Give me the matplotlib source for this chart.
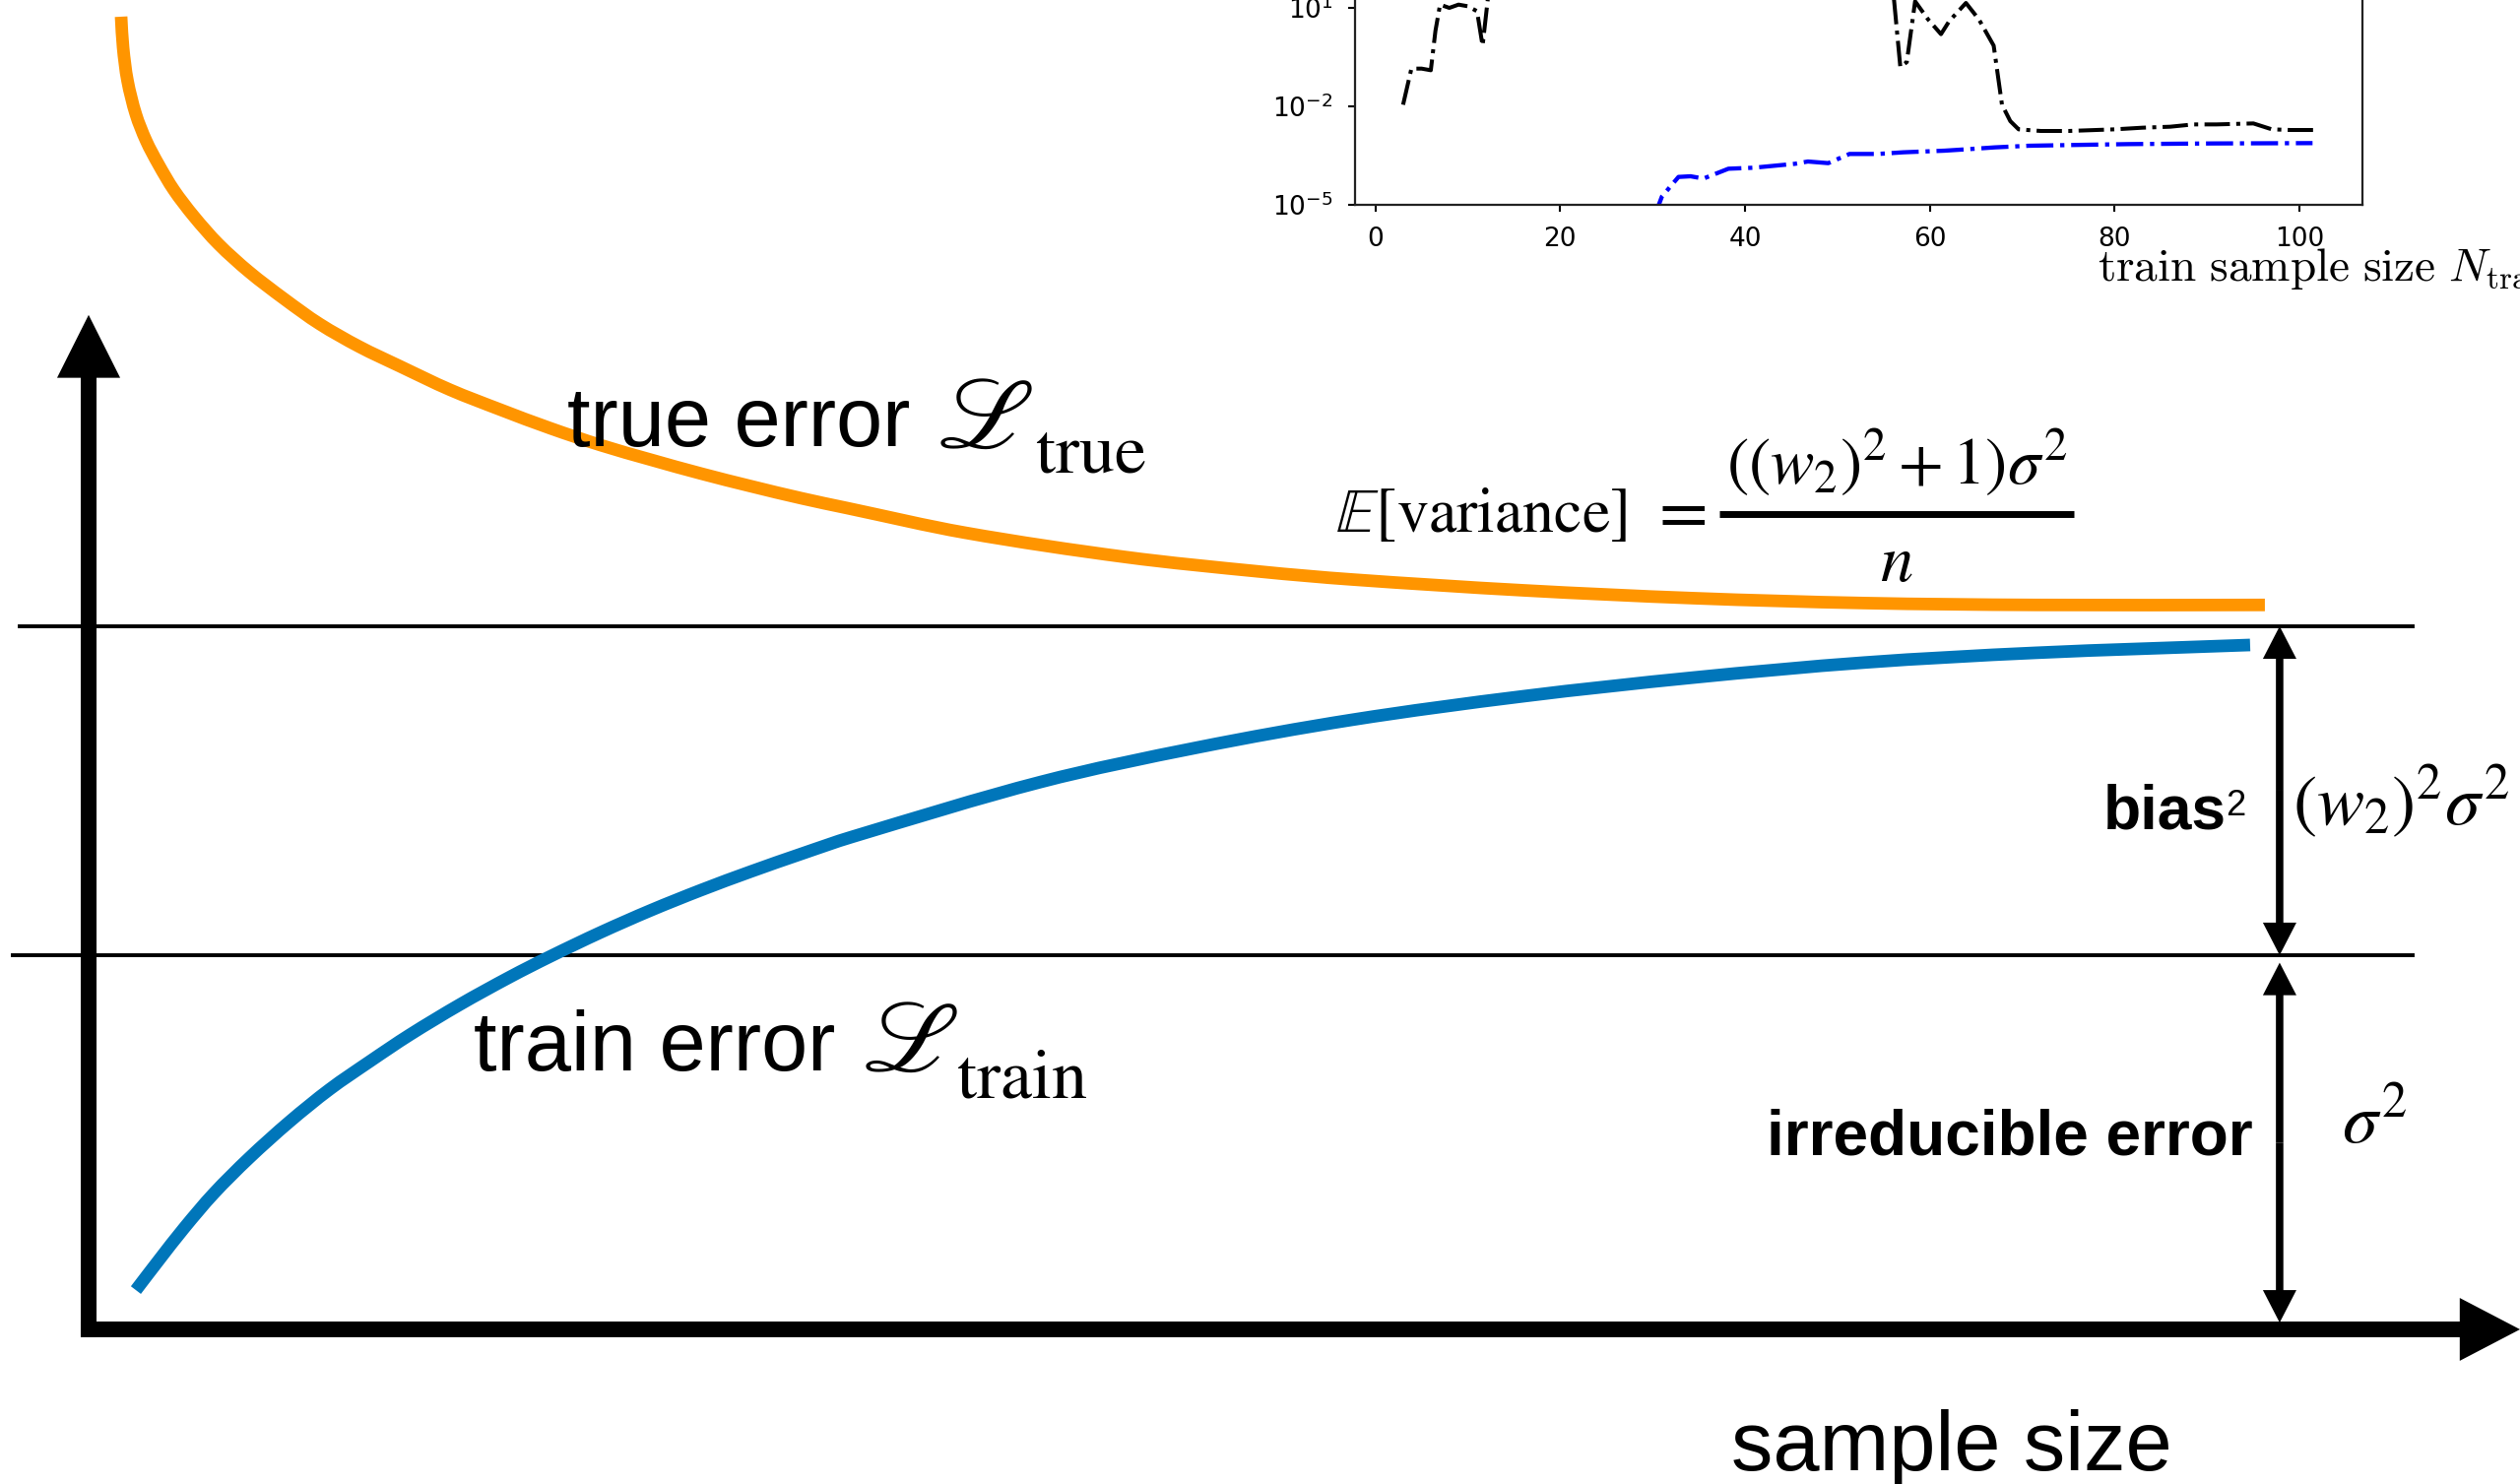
import numpy as np
import matplotlib
matplotlib.use("Agg")
import matplotlib.pyplot as plt
from matplotlib.path import Path
from matplotlib.patches import PathPatch
from matplotlib.ticker import NullLocator, FixedLocator

# ---------------- main schematic data ----------------
# x: sample size (0 at the vertical axis, 100 at the bracket), y: error (sigma^2 = 1)
true_x = [1.483, 1.573, 1.775, 2.157, 2.629, 3.191, 3.888, 4.809, 5.933, 7.326,
          8.944, 10.539, 12.360, 14.202, 16.494, 18.787, 21.079, 23.371, 25.663,
          27.955, 30.247, 32.539, 34.607, 40.0, 47.326, 53.483, 57.663, 65.483,
          73.258, 81.034, 88.854, 99.326]
true_err = [3.508, 3.426, 3.337, 3.247, 3.176, 3.113, 3.045, 2.974, 2.900, 2.826,
            2.753, 2.687, 2.626, 2.574, 2.511, 2.458, 2.408, 2.363, 2.324,
            2.287, 2.253, 2.221, 2.195, 2.129, 2.064, 2.025, 2.004, 1.975,
            1.954, 1.941, 1.936, 1.936]
train_x = [2.157, 3.191, 4.360, 5.708, 7.326, 9.169, 11.011, 12.831, 14.652, 16.944,
           19.236, 21.079, 23.371, 25.663, 27.955, 30.247, 32.539, 34.831,
           43.461, 50.607, 57.663, 65.483, 73.258, 81.034, 88.854, 98.652]
train_err = [0.105, 0.184, 0.271, 0.363, 0.458, 0.555, 0.642, 0.716, 0.787, 0.868,
             0.942, 0.997, 1.061, 1.120, 1.174, 1.224, 1.271, 1.316,
             1.463, 1.555, 1.629, 1.692, 1.742, 1.782, 1.808, 1.829]
sigma2 = 1.0
bias2 = 0.879
bracket_x = 100.0

# ---------------- inset data ----------------
ins_black_n = [3, 3.9, 5, 6, 6.5, 7, 8, 9, 10, 11, 11.6, 12.3, 20, 30, 40, 50, 56,
               56.8, 57.5, 58.4, 59.8, 61.2, 62.1, 63.9, 65.3, 66.9, 67.8, 68.7,
               69.6, 72, 75, 78, 80, 83, 86, 88.5, 91, 95, 97, 99, 101.5]
ins_black_exp = [-1.95, -0.85, -0.85, -0.9, 0.3, 1.1, 1.0, 1.1, 1.05, 0.9, -0.15,
                 1.6, 2.5, 2.8, 2.6, 2.5, 1.6, -0.8, -0.65, 1.2, 0.65, 0.2, 0.6,
                 1.15, 0.65, -0.15, -1.95, -2.45, -2.7, -2.75, -2.75, -2.72, -2.7,
                 -2.65, -2.62, -2.55, -2.55, -2.52, -2.7, -2.72, -2.72]
ins_blue_n = [30, 31, 32.8, 34.1, 35.5, 36.4, 38.2, 40.9, 45.4, 46.8, 49, 51.3,
              54.4, 57.1, 61.6, 64.4, 67, 70.7, 77, 81.5, 90.5, 101.4]
ins_blue_exp = [-5.5, -4.75, -4.15, -4.13, -4.2, -4.1, -3.9, -3.87, -3.75, -3.68,
                -3.73, -3.45, -3.45, -3.4, -3.35, -3.3, -3.25, -3.2, -3.17, -3.15,
                -3.13, -3.12]
ins_xticks = [0, 20, 40, 60, 80, 100]
ins_yticks = [1e-5, 1e-2, 1e1]

ORANGE = "#FF9500"
BLUE = "#0076BA"
SANS = "Liberation Sans"

W, H = 2559, 1507
fig = plt.figure(figsize=(W / 100, H / 100), dpi=100)
fig.patch.set_facecolor("white")

ax = fig.add_axes([0, 0, 1, 1])
ax.set_xlim(-4.045, 110.97)
ax.set_ylim(-0.4132, 3.5526)
ax.axis("off")


def smooth_curve(xs, ys):
    """Cubic Bezier path through the given points (chord-length tangents)."""
    pts = np.column_stack([xs, ys]).astype(float)
    disp = ax.transData.transform(pts)
    d = np.r_[0.0, np.cumsum(np.hypot(*np.diff(disp, axis=0).T))]
    n = len(pts)
    T = np.zeros_like(pts)
    for i in range(n):
        if i == 0:
            T[i] = (pts[1] - pts[0]) / (d[1] - d[0])
        elif i == n - 1:
            T[i] = (pts[-1] - pts[-2]) / (d[-1] - d[-2])
        else:
            T[i] = (pts[i + 1] - pts[i - 1]) / (d[i + 1] - d[i - 1])
    verts = [pts[0]]
    codes = [Path.MOVETO]
    for i in range(n - 1):
        h = d[i + 1] - d[i]
        verts += [pts[i] + T[i] * h / 3, pts[i + 1] - T[i + 1] * h / 3, pts[i + 1]]
        codes += [Path.CURVE4] * 3
    return Path(verts, codes)


ax.add_patch(PathPatch(smooth_curve(true_x, true_err), fill=False, edgecolor=ORANGE,
                       lw=9.2, capstyle="butt", zorder=3))
ax.add_patch(PathPatch(smooth_curve(train_x, train_err), fill=False, edgecolor=BLUE,
                       lw=9.2, capstyle="butt", zorder=3))

# reference lines
ax.plot([-3.146, 106.07], [sigma2 + bias2] * 2, color="black", lw=2.8, zorder=2)
ax.plot([-3.461, 106.07], [sigma2, sigma2], color="black", lw=2.8, zorder=2)

# coordinate axes (arrows)
ax.arrow(0, -0.021, 0, 2.711 + 0.021, width=0.72, head_width=2.88, head_length=0.168,
         length_includes_head=True, fc="black", ec="none", zorder=4)
ax.arrow(-0.36, 0, 110.97 + 0.36, 0, width=0.042, head_width=0.168, head_length=2.75,
         length_includes_head=True, fc="black", ec="none", zorder=4)


def dbl_arrow(x, y0, y1):
    ym = 0.5 * (y0 + y1)
    for yt in (y0, y1):
        ax.arrow(x, ym, 0, yt - ym, width=0.34, head_width=1.53, head_length=0.087,
                 length_includes_head=True, fc="black", ec="none", zorder=4)


dbl_arrow(bracket_x, sigma2, sigma2 + bias2)
dbl_arrow(bracket_x, 0.018, 0.98)

# labels
ax.text(21.84, 2.361, "true error", fontsize=61, family=SANS, va="baseline", ha="left")
ax.text(38.7, 2.355, r"$\mathscr{L}$", fontsize=74, math_fontfamily="stix",
        va="baseline", ha="left")
ax.text(43.19, 2.292, r"$\mathrm{true}$", fontsize=52, math_fontfamily="stix",
        va="baseline", ha="left")
ax.text(17.57, 0.692, "train error", fontsize=61, family=SANS, va="baseline", ha="left")
ax.text(35.3, 0.689, r"$\mathscr{L}$", fontsize=74, math_fontfamily="stix",
        va="baseline", ha="left")
ax.text(39.60, 0.621, r"$\mathrm{train}$", fontsize=52, math_fontfamily="stix",
        va="baseline", ha="left")
ax.text(74.97, -0.376, "sample size", fontsize=61, family=SANS, va="baseline", ha="left")

ax.text(91.95, 1.337, "bias", fontsize=45, family=SANS, weight="bold", va="baseline", ha="left")
ax.text(97.55, 1.374, "2", fontsize=26, family=SANS, va="baseline", ha="left")
ax.text(98.79, 0.468, "irreducible error", fontsize=46, family=SANS, weight="bold",
        va="baseline", ha="right")
ax.text(100.58, 1.35, r"$(w_2)^2\sigma^2$", fontsize=52, math_fontfamily="stix",
        va="baseline", ha="left")
ax.text(102.83, 0.5, r"$\sigma^2$", fontsize=52, math_fontfamily="stix",
        va="baseline", ha="left")

# E[variance] = ((w2)^2+1) sigma^2 / n
ax.text(56.9, 2.132, r"$\mathbb{E}[\mathrm{variance}]$", fontsize=46, math_fontfamily="stix",
        va="baseline", ha="left")
ax.text(72.52, 2.132, r"$=$", fontsize=52, math_fontfamily="stix", va="baseline", ha="center")
ax.plot([74.43, 90.61], [2.179, 2.179], color="black", lw=5, solid_capstyle="butt")
ax.text(82.52, 2.258, r"$((w_2)^2+1)\sigma^2$", fontsize=48, math_fontfamily="stix",
        va="baseline", ha="center")
ax.text(82.52, 2.0, r"$n$", fontsize=48, math_fontfamily="stix", va="baseline", ha="center")

# ---------------- inset ----------------
ins = fig.add_axes([1376 / W, 1299 / H, 1023 / W, 333.3 / H])
ins.set_facecolor("white")
ins.plot(ins_black_n, 10.0 ** np.array(ins_black_exp), linestyle="-.", color="black", lw=2.9)
ins.plot(ins_blue_n, 10.0 ** np.array(ins_blue_exp), linestyle="-.", color="blue", lw=3.1)
ins.set_yscale("log")
ins.set_ylim(1e-5, 1e5)
ins.set_xlim(-2.2, 106.8)
ins.xaxis.set_major_locator(FixedLocator(ins_xticks))
ins.yaxis.set_major_locator(FixedLocator(ins_yticks))
ins.yaxis.set_minor_locator(NullLocator())
ins.tick_params(labelsize=19, width=1.5, length=5, pad=11)
for s in ins.spines.values():
    s.set_linewidth(1.6)
    s.set_color("#222222")

fig.text(2130 / W, 1 - 285 / H, r"$\mathrm{train\ sample\ size}\ N_{\mathrm{train}}$",
         fontsize=34, math_fontfamily="cm", va="baseline", ha="left")

fig.savefig("out.png", dpi=100, facecolor="white")
